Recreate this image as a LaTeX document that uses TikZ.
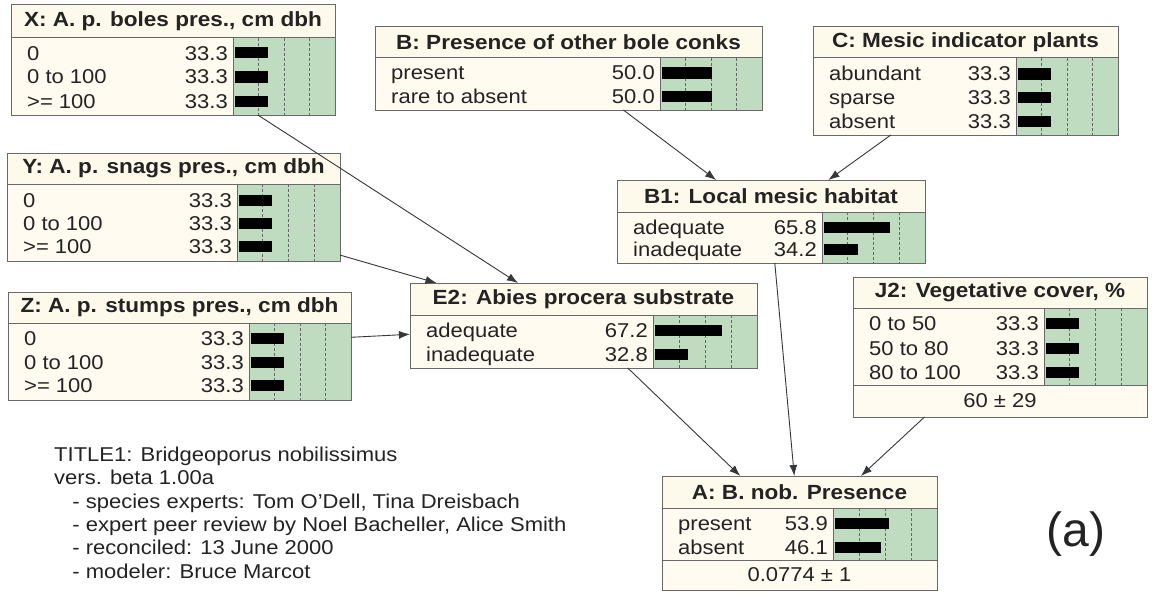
\documentclass[tikz,border=0pt]{standalone}
\usepackage{fontspec}
\setmainfont{Liberation Sans}[FakeStretch=1.1]
\newfontfamily\plainfont{Liberation Sans}
\usetikzlibrary{calc,fit,arrows.meta}
\definecolor{bodyfill}{RGB}{255,251,240}
\definecolor{titlefill}{RGB}{253,249,235}
\definecolor{greenfill}{RGB}{192,220,192}
\definecolor{bordercol}{RGB}{105,105,105}
\definecolor{textcol}{RGB}{35,35,35}
\definecolor{edgecol}{RGB}{55,55,55}

\newcommand{\nodeframe}[7]{% name, x1, y1, x2, y2, title bottom, title
  \fill[bodyfill] (#2,#3) rectangle (#4,#5);
  \fill[titlefill] (#2,#3) rectangle (#4,#6);
  \coordinate (#1-nw) at (#2,#3);
  \coordinate (#1-se) at (#4,#5);
  \node[titletext] (#1-title) at ($(#2,#3)!0.5!(#4,#6)$) {#7};
}
\newcommand{\greenpanel}[4]{% gx, top, x2, bottom
  \fill[greenfill] (#1,#2) rectangle (#3,#4);
  \foreach \f in {0.25,0.5,0.75}
    \draw[gridline] ($(#1,#2)!\f!(#3,#2)$) -- ($(#1,#4)!\f!(#3,#4)$);
  \draw[sepline] (#1,#2) -- (#1,#4);
}
\newcommand{\staterow}[6]{% x1, gx, y, label, value, pct
  \node[statetext, anchor=base west] at ($(#1,#3)+(16,7)$) {#4};
  \node[statetext, anchor=base east] at ($(#2,#3)+(-5,7)$) {#5};
  \fill[barfill] ($(#2,#3)+(2,-5.5)$) rectangle ($(#2,#3)+(2+#6,5.5)$);
}
\newcommand{\footrow}[5]{% x1, x2, body bottom, y2, text
  \draw[sepline] (#1,#3) -- (#2,#3);
  \node[statetext] at ($(#1,#3)!0.5!(#2,#4)$) {#5};
}
\newcommand{\closeframe}[4]{% name, x1, x2, title bottom
  \draw[sepline] (#2,#4) -- (#3,#4);
  \node[fit=(#1-nw)(#1-se), inner sep=0pt, outer sep=0pt, draw=bordercol, line width=1pt] (#1) {};
}

\begin{document}
\begin{tikzpicture}[x=1pt,y=-1pt,
  titletext/.style={font=\fontsize{20.5}{24}\selectfont\bfseries, text=textcol, inner sep=0pt},
  statetext/.style={font=\fontsize{20}{24}\selectfont, text=textcol, inner sep=0pt},
  infotext/.style={font=\fontsize{20}{24}\selectfont, text=textcol, inner sep=0pt, anchor=base west},
  gridline/.style={draw=black!60, dashed, dash pattern=on 3pt off 2pt, line width=0.6pt},
  sepline/.style={draw=bordercol, line width=1pt},
  barfill/.style={fill=black},
  edge/.style={draw=edgecol, line width=0.9pt, -{Latex[length=11pt,width=8pt]}}]
\useasboundingbox[fill=white] (0,0) rectangle (1159,594);

% X
\nodeframe{X}{11}{5}{335}{115}{38}{X: A. p. boles pres., cm dbh}
\greenpanel{233}{38}{335}{115}
\staterow{11}{233}{53}{0}{33.3}{33.3}
\staterow{11}{233}{77}{0 to 100}{33.3}{33.3}
\staterow{11}{233}{101}{>= 100}{33.3}{33.3}
\closeframe{X}{11}{335}{38}

% Y
\nodeframe{Y}{7}{153}{340}{261}{184}{Y: A. p. snags pres., cm dbh}
\greenpanel{237}{184}{340}{261}
\staterow{7}{237}{200}{0}{33.3}{33.3}
\staterow{7}{237}{223}{0 to 100}{33.3}{33.3}
\staterow{7}{237}{246}{>= 100}{33.3}{33.3}
\closeframe{Y}{7}{340}{184}

% Z
\nodeframe{Z}{8}{292}{351}{400}{323}{Z: A. p. stumps pres., cm dbh}
\greenpanel{249}{323}{351}{400}
\staterow{8}{249}{338}{0}{33.3}{33.3}
\staterow{8}{249}{362}{0 to 100}{33.3}{33.3}
\staterow{8}{249}{385}{>= 100}{33.3}{33.3}
\closeframe{Z}{8}{351}{323}

% B
\nodeframe{B}{375}{27}{762}{110}{58}{B: Presence of other bole conks}
\greenpanel{660}{58}{762}{110}
\staterow{375}{660}{73}{present}{50.0}{50.0}
\staterow{375}{660}{96}{rare to absent}{50.0}{50.0}
\closeframe{B}{375}{762}{58}

% C
\nodeframe{C}{813}{27}{1118}{135}{58}{C: Mesic indicator plants}
\greenpanel{1016}{58}{1118}{135}
\staterow{813}{1016}{74}{abundant}{33.3}{33.3}
\staterow{813}{1016}{97}{sparse}{33.3}{33.3}
\staterow{813}{1016}{121}{absent}{33.3}{33.3}
\closeframe{C}{813}{1118}{58}

% B1
\nodeframe{B1}{617}{180}{925}{263}{212}{B1: Local mesic habitat}
\greenpanel{822}{212}{925}{263}
\staterow{617}{822}{227}{adequate}{65.8}{65.8}
\staterow{617}{822}{249}{inadequate}{34.2}{34.2}
\closeframe{B1}{617}{925}{212}

% E2
\nodeframe{E2}{410}{283}{757}{368}{315}{E2: Abies procera substrate}
\greenpanel{653}{315}{757}{368}
\staterow{410}{653}{330}{adequate}{67.2}{67.2}
\staterow{410}{653}{354}{inadequate}{32.8}{32.8}
\closeframe{E2}{410}{757}{315}

% J2
\nodeframe{J2}{853}{277}{1147}{417}{308}{J2: Vegetative cover, \%}
\greenpanel{1044}{308}{1147}{385}
\staterow{853}{1044}{323}{0 to 50}{33.3}{33.3}
\staterow{853}{1044}{348}{50 to 80}{33.3}{33.3}
\staterow{853}{1044}{372}{80 to 100}{33.3}{33.3}
\footrow{853}{1147}{385}{417}{60 ± 29}
\closeframe{J2}{853}{1147}{308}

% A
\nodeframe{A}{662}{476}{937}{590}{508}{A: B. nob. Presence}
\greenpanel{833}{508}{937}{560}
\staterow{662}{833}{523}{present}{53.9}{53.9}
\staterow{662}{833}{547}{absent}{46.1}{46.1}
\footrow{662}{937}{560}{590}{0.0774 ± 1}
\closeframe{A}{662}{937}{508}

% connectors
\draw[edge] (X) -- (E2);
\draw[edge] (Y) -- (E2);
\draw[edge] (Z) -- (E2);
\draw[edge] (B) -- (B1);
\draw[edge] (C) -- (B1);
\draw[edge] (B1) -- (A);
\draw[edge] (E2) -- (A);
\draw[edge] (J2) -- (A);

% info text
\node[infotext] (t1) at (54,461) {TITLE1: Bridgeoporus nobilissimus};
\node[infotext] (t2) at (54,484.5) {vers. beta 1.00a};
\node[infotext] (t3) at (60,508) {\ \ - species experts: Tom O'Dell, Tina Dreisbach};
\node[infotext] (t4) at (60,531) {\ \ - expert peer review by Noel Bacheller, Alice Smith};
\node[infotext] (t5) at (60,554.5) {\ \ - reconciled: 13 June 2000};
\node[infotext] (t6) at (60,578) {\ \ - modeler: Bruce Marcot};

\node[font=\plainfont\fontsize{48}{56}\selectfont, text=textcol, inner sep=0pt, anchor=base] (lbl) at (1076,546) {(a)};
\end{tikzpicture}
\end{document}
